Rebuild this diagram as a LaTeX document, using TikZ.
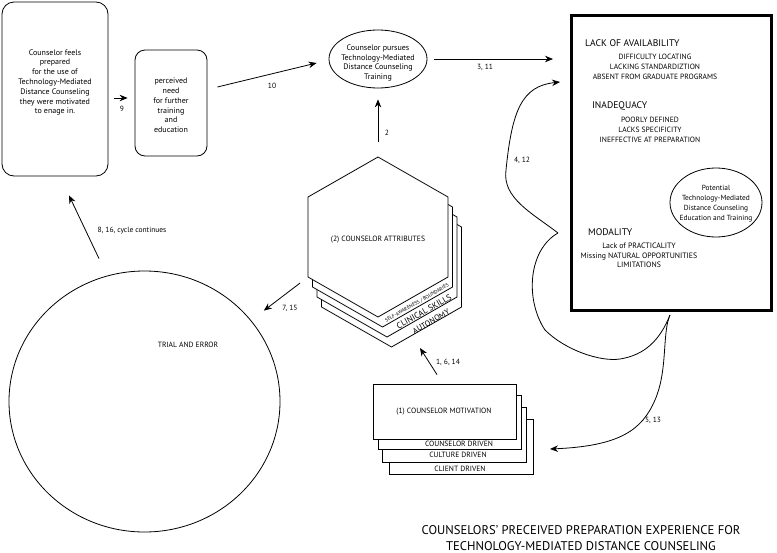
\documentclass[tikz,border=0pt]{standalone}
\usepackage{fontspec}
\setmainfont{PT Sans}
\usetikzlibrary{arrows.meta,shapes.geometric,calc}
\begin{document}
\begin{tikzpicture}[x=1pt,y=-1pt,
  arr/.style={-{Stealth[length=8pt,width=6.5pt]}, line width=0.8pt},
  curv/.style={line width=0.8pt},
  shape line/.style={draw, line width=0.8pt},
  txt/.style={font=\fontsize{8}{9.8}\selectfont, align=center, inner sep=0pt},
  head/.style={font=\fontsize{9.6}{11}\selectfont, inner sep=0pt},
  item/.style={font=\fontsize{7.6}{10}\selectfont, align=center, inner sep=0pt},
  caps/.style={font=\fontsize{7.6}{9}\selectfont, inner sep=0pt},
  lab/.style={font=\fontsize{7.5}{9}\selectfont, inner sep=0pt},
  ttl/.style={font=\fontsize{12.6}{16}\selectfont, inner sep=0pt, anchor=base},
  mbox/.style={shape line, fill=white, inner sep=0pt}]
\useasboundingbox (0,0) rectangle (777,552);

% left boxes
\node[shape line, rounded corners=12pt, minimum width=106, minimum height=174, inner sep=0pt] (prep) at (55,89) {};
\node[txt] (prept) at (55,82.5) {Counselor feels\\prepared\\for the use of\\Technology-Mediated\\Distance Counseling\\they were motivated\\to enage in.};
\node[shape line, rounded corners=10pt, minimum width=72, minimum height=106, inner sep=0pt] (need) at (171,103) {};
\node[txt] (needt) at (171,105.5) {perceived\\need\\for further\\training\\and\\education};

% ellipse
\node[shape line, ellipse, minimum width=98, minimum height=58, inner sep=0pt] (pursue) at (378,59) {};
\node[txt] (pursuet) at (378,63) {Counselor pursues\\Technology-Mediated\\Distance Counseling\\Training};

% big box
\node[draw, line width=3pt, minimum width=200, minimum height=295, inner sep=0pt] (lack) at (671.5,163) {};
\node[head, anchor=west] (h1) at (585,43) {LACK OF AVAILABILITY};
\node[item] (i1) at (655,67) {DIFFICULTY LOCATING\\LACKING STANDARDIZTION\\ABSENT FROM GRADUATE PROGRAMS};
\node[head, anchor=west] (h2) at (592,106) {INADEQUACY};
\node[item] (i2) at (650,130) {POORLY DEFINED\\LACKS SPECIFICITY\\INEFFECTIVE AT PREPARATION};
\node[shape line, ellipse, minimum width=92, minimum height=69, inner sep=0pt] (pot) at (716,202.5) {};
\node[txt, font=\fontsize{7.4}{10}\selectfont] (pott) at (716,204) {Potential\\Technology-Mediated\\Distance Counseling\\Education and Training};
\node[head, anchor=west] (h3) at (588,232) {MODALITY};
\node[item, font=\fontsize{7.8}{9.4}\selectfont] (i3) at (639,255.5) {Lack of PRACTICALITY\\Missing NATURAL OPPORTUNITIES\\LIMITATIONS};

% hexagon stack
\foreach \dx/\dy in {13.5/30, 9/20, 4.5/10, 0/0} {
  \begin{scope}[shift={(\dx,\dy)}]
    \draw[line width=0.8pt, fill=white] (378,157) -- (448,197) -- (448,277) -- (378,317) -- (308,277) -- (308,197) -- cycle;
  \end{scope}
}
\coordinate (hextop) at (378,157);
\coordinate (hexll) at (308,277);
\coordinate (hexbot) at (391.5,347);
\node[caps] (attr) at (378,240) {(2) COUNSELOR ATTRIBUTES};
\node[rotate=29.7, font=\fontsize{5}{5}\selectfont, inner sep=0pt] (sa) at (417,303) {SELF-AWARENESS / BOUNDARIES};
\node[rotate=29.7, font=\fontsize{8.5}{8.5}\selectfont, inner sep=0pt] (cs) at (424,311.5) {CLINICAL SKILLS};
\node[rotate=29.7, font=\fontsize{8}{8}\selectfont, inner sep=0pt] (au) at (431,321.5) {AUTONOMY};

% motivation stack
\node[mbox, minimum width=144, minimum height=55] (m3) at (461,446.5) {};
\node[caps] (t3) at (460,469) {CLIENT DRIVEN};
\node[mbox, minimum width=144, minimum height=55] (m2) at (454,434.5) {};
\node[caps] (t2) at (458,455) {CULTURE DRIVEN};
\node[mbox, minimum width=143, minimum height=54] (m1) at (449.5,422) {};
\node[caps] (t1) at (459,444) {COUNSELOR DRIVEN};
\node[mbox, minimum width=143, minimum height=55] (mot) at (444.5,411.5) {};
\node[caps] (mott) at (444,412) {(1) COUNSELOR MOTIVATION};

% trial and error
\node[shape line, ellipse, minimum width=271, minimum height=261, inner sep=0pt] (trial) at (144.5,401.5) {};
\node[caps] (trialt) at (188,345) {TRIAL AND ERROR};

% straight connectors
\draw[arr] ([xshift=6pt,yshift=-9pt]prep.east) -- ([xshift=-7pt,yshift=5pt]need.west);
\node[lab] (l9) at (122,109) {9};
\draw[arr] ([xshift=10pt,yshift=16pt]need.east) -- ([xshift=-12pt,yshift=-4pt]pursue.west);
\node[lab] (l10) at (272,86) {10};
\draw[arr, shorten <=7pt, shorten >=17pt] (pursue.east) -- (lack.west |- pursue.east);
\node[lab] (l311) at (485,67) {3, 11};
\draw[arr, shorten <=15pt, shorten >=11pt] (hextop) -- (pursue.south);
\node[lab] (l2) at (387,133) {2};
\draw[arr, shorten <=10pt, shorten >=16pt] (hexll) -- (trial);
\node[lab] (l715) at (290,308) {7, 15};
\draw[arr] ([xshift=-45.5pt,yshift=12pt]trial.north) -- ([xshift=14pt,yshift=-19pt]prep.south);
\node[lab] (l816) at (132,231) {8, 16, cycle continues};
\draw[arr] ([xshift=-7.5pt,yshift=9pt]mot.north) -- ([xshift=28.5pt,yshift=-1pt]hexbot);
\node[lab] (l1614) at (448,362) {1, 6, 14};

% curved connectors
\coordinate (cusp) at (558,233);
\coordinate (tip412) at (560,82);
\coordinate (cusp2) at ([yshift=-3pt]lack.south -| 670,0);
\coordinate (tip513) at (550,449);
\draw[arr] (cusp) .. controls (532,213) and (502,198) .. (506,170) .. controls (512,110) and (522,86) .. (tip412);
\draw[curv] (cusp) .. controls (528,250) and (525,300) .. (545,330) .. controls (565,350) and (600,362) .. (620,359) .. controls (645,355) and (660,340) .. (cusp2);
\draw[arr] (cusp2) .. controls (662,333) and (668,370) .. (655,400) .. controls (642,430) and (620,446) .. (tip513);
\node[lab] (l412) at (522,160) {4, 12};
\node[lab] (l513) at (653,420) {5, 13};

% title
\node[ttl] (title1) at (581,534) {COUNSELORS’ PRECEIVED PREPARATION EXPERIENCE FOR};
\node[ttl] (title2) at (581,550) {TECHNOLOGY-MEDIATED DISTANCE COUNSELING};
\end{tikzpicture}
\end{document}
